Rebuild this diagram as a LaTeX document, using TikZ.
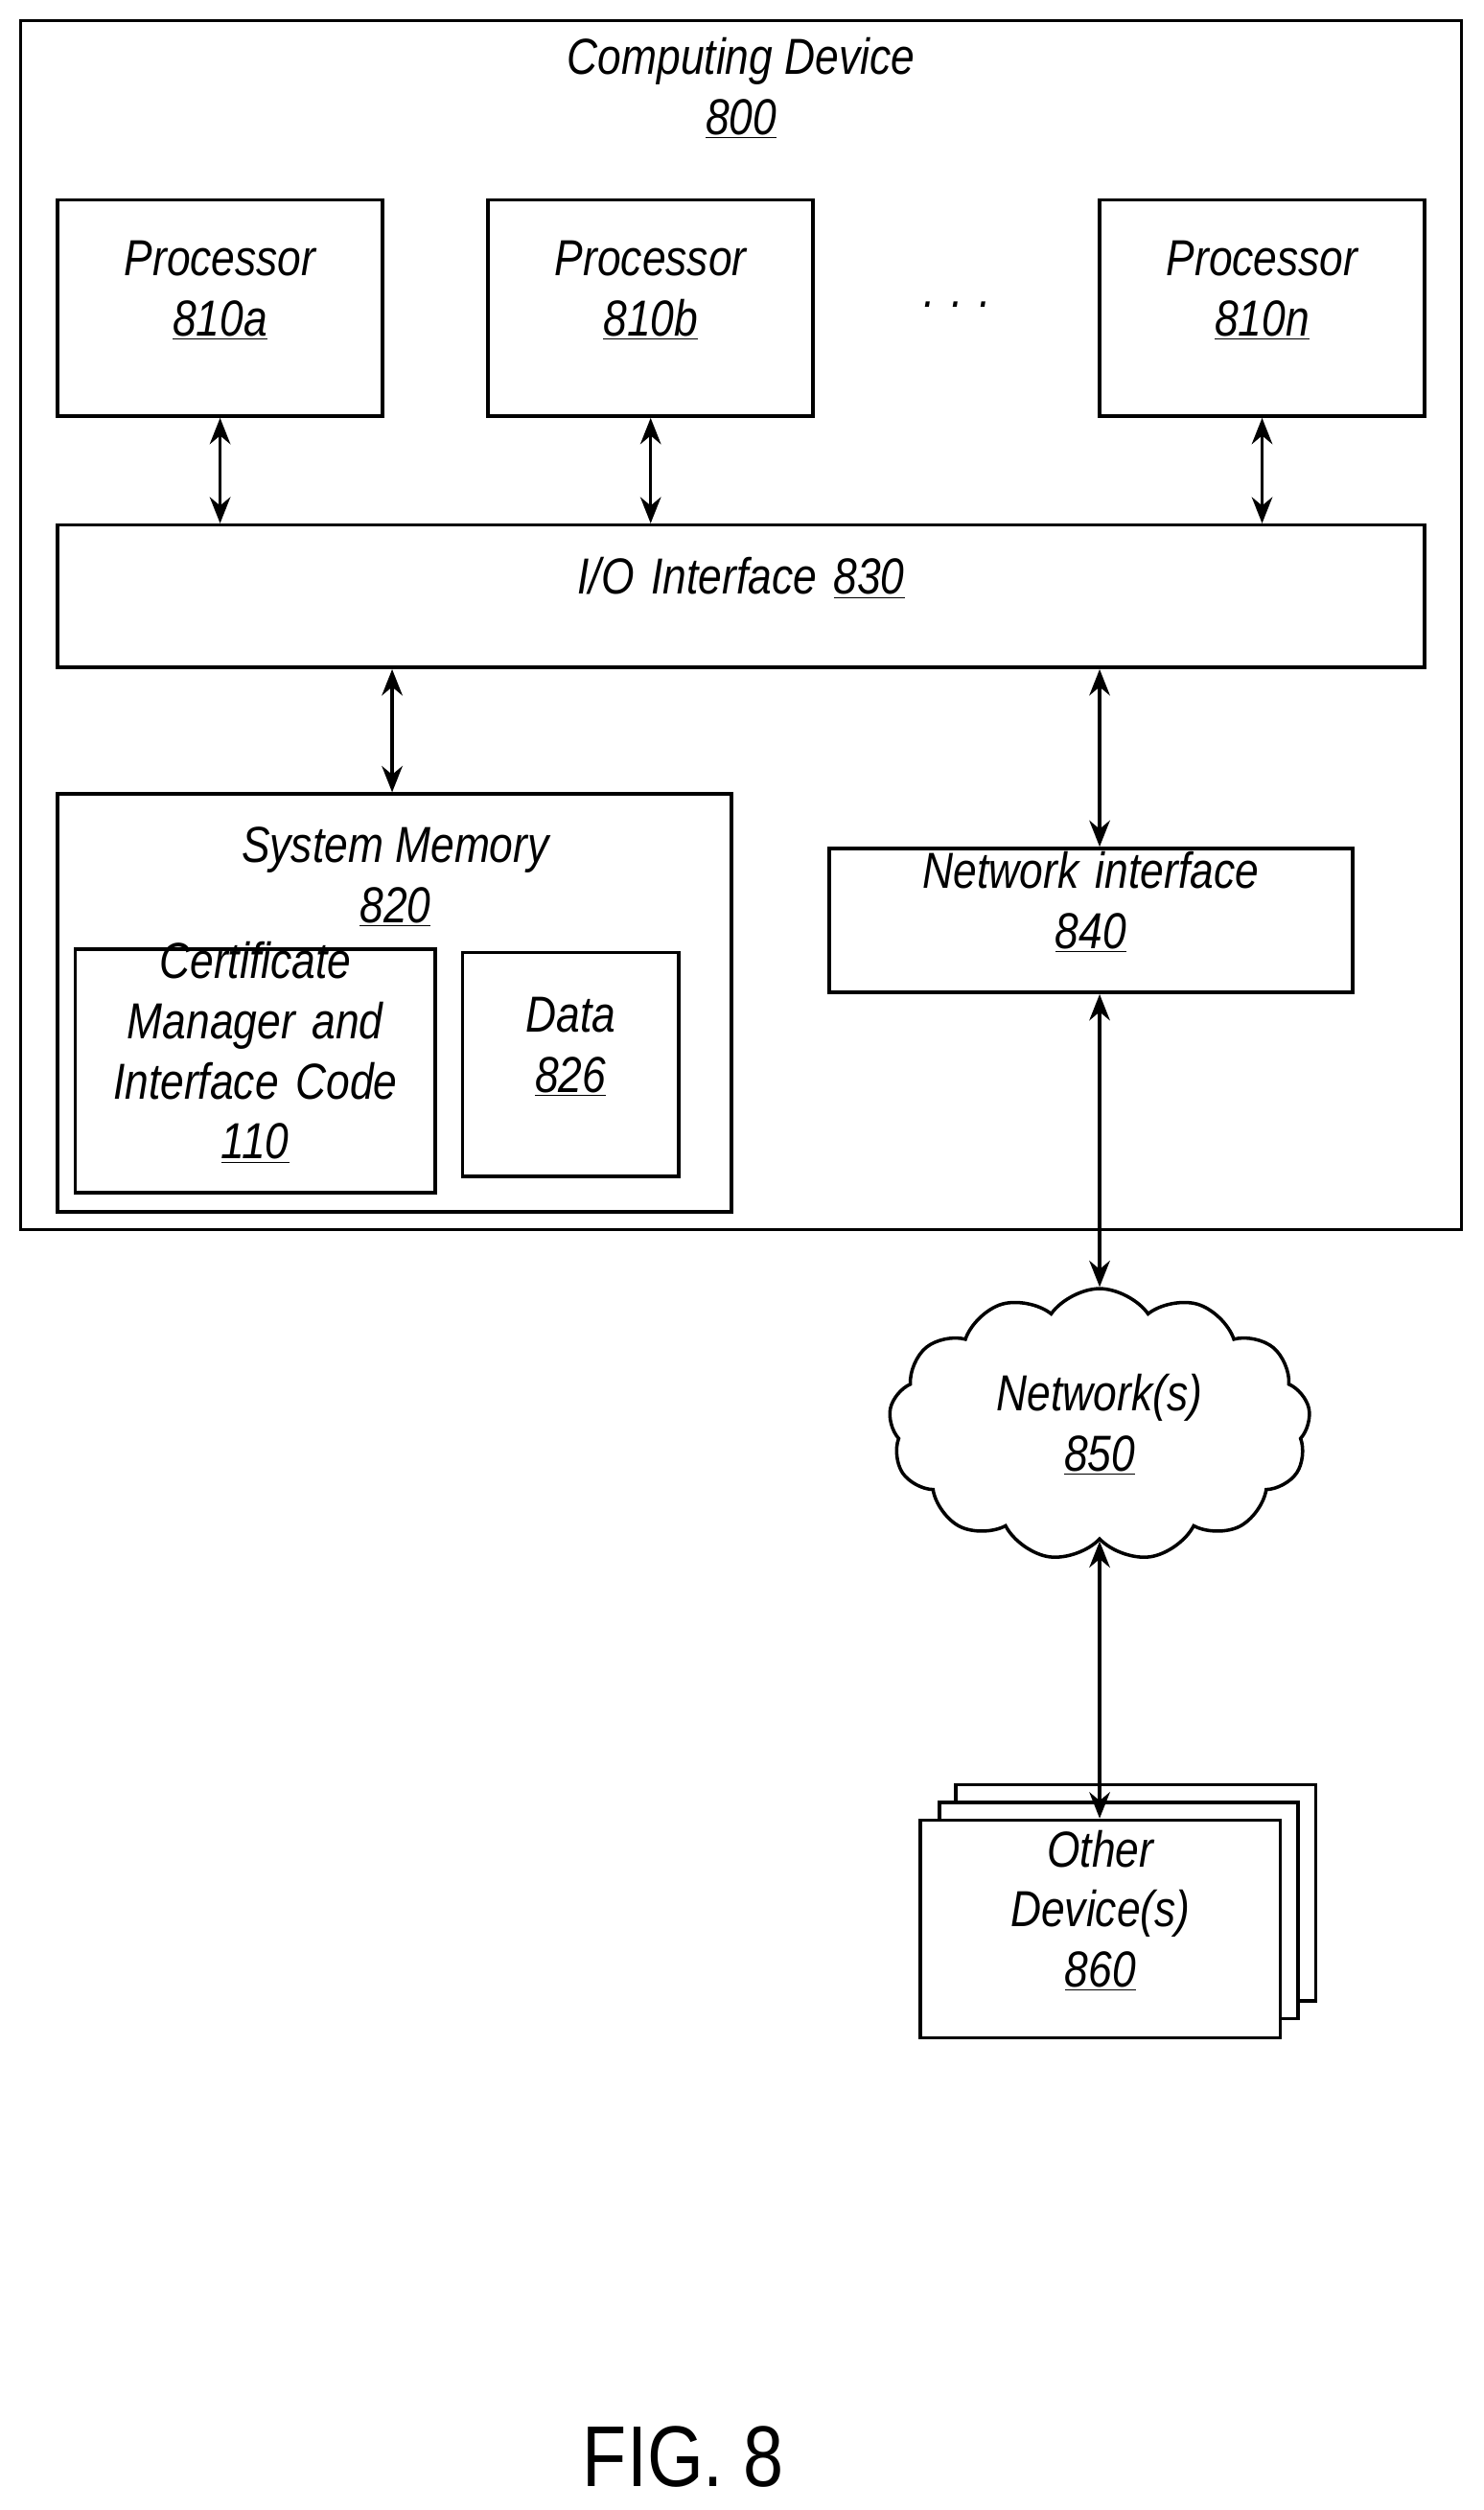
\documentclass[tikz,border=0pt]{standalone}
\usepackage{fontspec}
\setmainfont{Liberation Sans}[FakeStretch=0.84]
\usetikzlibrary{fit,shapes.symbols,arrows.meta}
\begin{document}
\begin{tikzpicture}[x=0.03cm,y=-0.03cm,
 box/.style={draw,line width=1.8pt,inner sep=0,fill=white},
 lab/.style={font=\fontsize{27}{32}\selectfont\itshape,align=center},
 ar/.style={{Stealth[length=14pt,width=11pt]}-{Stealth[length=14pt,width=11pt]},line width=1.8pt}]
\useasboundingbox (0,0) rectangle (927,1568);
\node[box,fit={(13,13)(913,768)}] (cd) {};
\node[lab] at (463,55) {Computing Device\\\underline{800}};
\node[box,fit={(36,125)(239,260)},lab] (pa) {Processor\\\underline{810a}};
\node[box,fit={(305,125)(508,260)},lab] (pb) {Processor\\\underline{810b}};
\node[box,fit={(687,125)(890,260)},lab] (pn) {Processor\\\underline{810n}};
\node[lab] (dots) at (598,190) {. . .};
\node[box,fit={(36,328)(890,417)},lab] (io) {I/O Interface \underline{830}};
\node[box,fit={(36,496)(457,757)}] (sm) {};
\node[lab] at (247,548) {System Memory\\\underline{820}};
\node[box,fit={(47,593)(272,745)},lab] (cm) {Certificate\\Manager and\\Interface Code\\\underline{110}};
\node[box,fit={(289,595)(424,735)},lab] (da) {Data\\\underline{826}};
\node[box,fit={(518,530)(845,620)},lab] (ni) {Network interface\\\underline{840}};
\node[draw,cloud,cloud puffs=13,cloud puff arc=110,aspect=1.55,line width=1.8pt,minimum width=262\pgflinewidth,inner sep=0,lab,minimum width=7.9cm,minimum height=5.1cm] (nw) at (687,890) {Network(s)\\\underline{850}};
\node[box,fit={(597,1115)(822,1250)}] (o3) {};
\node[box,fit={(587,1126)(811,1261)}] (o2) {};
\node[box,fit={(575,1137)(800,1273)},lab] (od) {Other\\Device(s)\\\underline{860}};
\node[font=\fontsize{46}{50}\selectfont] (fig) at (427,1535) {FIG. 8};
\draw[ar] (pa.south) -- (pa.south |- io.north);
\draw[ar] (pb.south) -- (pb.south |- io.north);
\draw[ar] (pn.south) -- (pn.south |- io.north);
\draw[ar] (io.south -| 245,0) -- (sm.north -| 245,0);
\draw[ar] (io.south -| 687,0) -- (ni.north -| 687,0);
\draw[ar] (ni.south -| 687,0) -- (nw.north -| 687,0);
\draw[ar] (nw.south -| 687,0) -- (od.north -| 687,0);
\end{tikzpicture}
\end{document}
